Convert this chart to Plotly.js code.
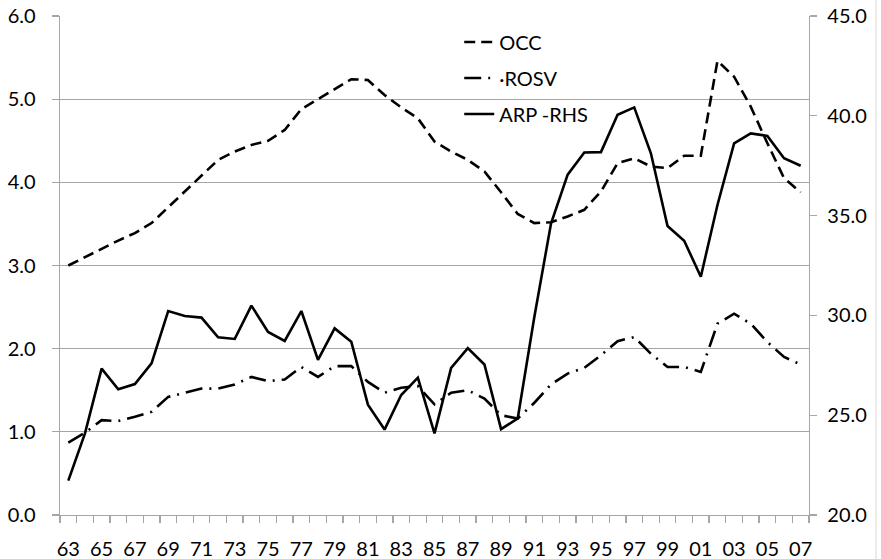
<!DOCTYPE html>
<html>
<head>
<meta charset="utf-8">
<script src="https://cdn.plot.ly/plotly-3.0.1.min.js"></script>
<style>
html, body { margin: 0; padding: 0; background: #ffffff; }
#chart { width: 881px; height: 559px; }
</style>
</head>
<body>
<div id="chart"></div>
<script>
// Categories (years 1963-2007, two-digit labels)
const years = ['63','64','65','66','67','68','69','70','71','72','73','74','75','76','77','78','79','80','81','82','83','84','85','86','87','88','89','90','91','92','93','94','95','96','97','98','99','00','01','02','03','04','05','06','07'];

// OCC (left axis)
const occ = [3.00,3.10,3.20,3.30,3.39,3.51,3.70,3.89,4.09,4.27,4.37,4.45,4.50,4.63,4.88,5.00,5.12,5.24,5.23,5.05,4.90,4.77,4.49,4.37,4.27,4.13,3.88,3.62,3.51,3.52,3.59,3.67,3.89,4.23,4.29,4.19,4.17,4.32,4.32,5.46,5.27,4.91,4.47,4.05,3.88];

// ROSV (left axis)
const rosv = [0.87,0.99,1.14,1.13,1.18,1.24,1.42,1.47,1.52,1.52,1.57,1.66,1.61,1.63,1.78,1.66,1.79,1.79,1.60,1.47,1.53,1.55,1.33,1.47,1.50,1.40,1.20,1.16,1.35,1.57,1.70,1.77,1.92,2.09,2.14,1.94,1.78,1.78,1.72,2.30,2.42,2.30,2.08,1.90,1.81];

// ARP - RHS (right axis)
const arp = [21.72,24.09,27.33,26.30,26.56,27.60,30.22,29.97,29.89,28.90,28.82,30.49,29.17,28.72,30.22,27.77,29.35,28.68,25.53,24.28,26.01,26.88,24.09,27.37,28.36,27.54,24.30,24.84,29.93,34.60,37.05,38.16,38.18,40.05,40.42,38.12,34.48,33.74,31.94,35.53,38.62,39.12,38.99,37.87,37.50];

// Series names
const seriesNames = ['OCC', '\u00B7ROSV', 'ARP -RHS'];

// Derived axis helpers
const xIdx = years.map((_, i) => i);
const labelIdx = xIdx.filter(i => i % 2 === 0);
const labelText = labelIdx.map(i => years[i]);
const boundaries = Array.from({length: years.length + 1}, (_, i) => i - 0.5);

const traces = [
  {
    x: xIdx, y: occ, name: seriesNames[0], type: 'scatter', mode: 'lines',
    line: {color: '#000000', width: 2.6, dash: '11px,6px'},
    legendgroup: 'a', yaxis: 'y', hoverinfo: 'skip'
  },
  {
    x: xIdx, y: rosv, name: seriesNames[1], type: 'scatter', mode: 'lines',
    line: {color: '#000000', width: 2.6, dash: '17px,7px,2px,7px'},
    legendgroup: 'b', yaxis: 'y', hoverinfo: 'skip'
  },
  {
    x: xIdx, y: arp, name: seriesNames[2], type: 'scatter', mode: 'lines',
    line: {color: '#000000', width: 2.6},
    legendgroup: 'c', yaxis: 'y2', hoverinfo: 'skip'
  }
];

const axisGray = '#a6a6a6';

const layout = {
  width: 881, height: 559,
  margin: {l: 60, r: 72, t: 16, b: 44},
  paper_bgcolor: '#ffffff', plot_bgcolor: '#ffffff',
  font: {family: 'Lato, Carlito, "Liberation Sans", sans-serif', size: 20, color: '#000000'},
  showlegend: true,
  xaxis: {
    range: [-0.5, years.length - 0.5],
    tickmode: 'array', tickvals: labelIdx, ticktext: labelText,
    ticks: 'outside', ticklen: 16, tickcolor: 'rgba(0,0,0,0)',
    showgrid: false, zeroline: false,
    showline: true, linecolor: axisGray, linewidth: 1.3,
    minor: {tickmode: 'array', tickvals: boundaries, ticks: 'outside', ticklen: 7, tickcolor: axisGray, tickwidth: 1.3, showgrid: false},
    fixedrange: true
  },
  yaxis: {
    range: [0, 6], tickmode: 'linear', tick0: 0, dtick: 1, tickformat: '.1f',
    ticks: 'outside', ticklen: 7, tickcolor: axisGray, tickwidth: 1.3,
    showgrid: true, gridcolor: axisGray, gridwidth: 1.3,
    showline: true, linecolor: axisGray, linewidth: 1.3, zeroline: false,
    ticklabelstandoff: 12, fixedrange: true
  },
  yaxis2: {
    overlaying: 'y', side: 'right', anchor: 'x',
    range: [20, 45], tickmode: 'linear', tick0: 20, dtick: 5, tickformat: '.1f',
    ticks: 'outside', ticklen: 7, tickcolor: axisGray, tickwidth: 1.3,
    showgrid: false, showline: true, linecolor: axisGray, linewidth: 1.3, zeroline: false,
    ticklabelstandoff: 6, fixedrange: true
  },
  legend: {
    x: 0.533, y: 0.987, xanchor: 'left', yanchor: 'top',
    bgcolor: 'rgba(0,0,0,0)', borderwidth: 0,
    font: {size: 20, color: '#000000'},
    tracegroupgap: 7, itemwidth: 30, traceorder: 'grouped'
  },
  shapes: [
    {type: 'line', xref: 'paper', yref: 'paper', x0: 1.0895, x1: 1.0895, y0: -0.09, y1: 1.04,
     line: {color: '#d9d9d9', width: 1}}
  ]
};

Plotly.newPlot('chart', traces, layout, {displayModeBar: false, staticPlot: true});
</script>
</body>
</html>
